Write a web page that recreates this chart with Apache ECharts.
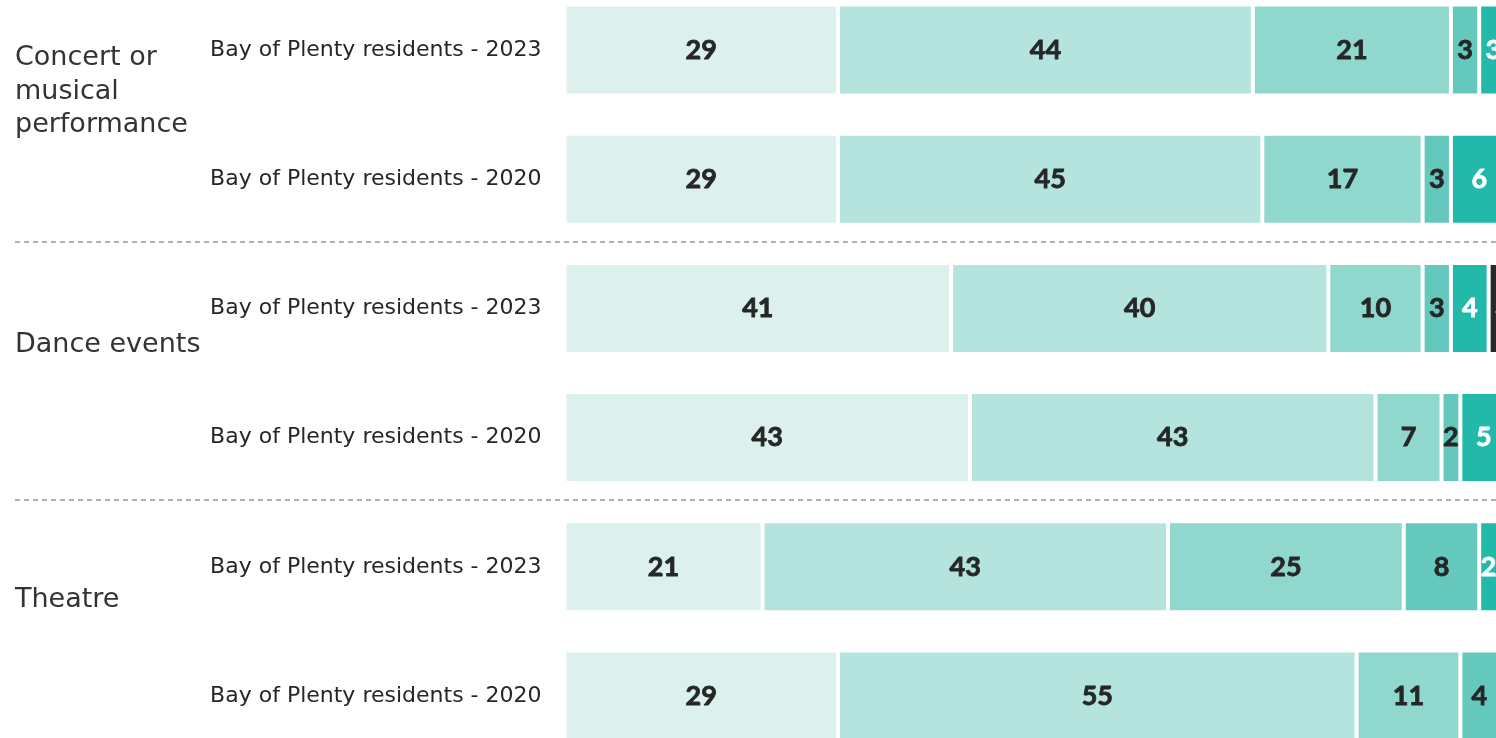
<!DOCTYPE html>
<html>
<head>
<meta charset="utf-8">
<script src="https://cdn.jsdelivr.net/npm/echarts@6/dist/echarts.min.js"></script>
<style>
  html, body { margin: 0; padding: 0; background: #ffffff; }
  #chart { width: 1496px; height: 738px; }
</style>
</head>
<body>
<div id="chart"></div>
<script>
// Rows, top to bottom
const rowLabels = [
  'Bay of Plenty residents - 2023',
  'Bay of Plenty residents - 2020',
  'Bay of Plenty residents - 2023',
  'Bay of Plenty residents - 2020',
  'Bay of Plenty residents - 2023',
  'Bay of Plenty residents - 2020'
];
// Activity groups (two rows each)
const groupLabels = ['Concert or\nmusical\nperformance', 'Dance events', 'Theatre'];

// Share of respondents (%) per response band, one value per row
const band1 = [29, 29, 41, 43, 21, 29];
const band2 = [44, 45, 40, 43, 43, 55];
const band3 = [21, 17, 10, 7, 25, 11];
const band4 = [3, 3, 3, 2, 8, 4];
const band5 = [3, 6, 4, 5, 2, null];
const band6 = [null, null, 3, null, null, null];

const bands = [
  { name: 'Band 1', data: band1, color: '#dcf1ed', text: '#262626' },
  { name: 'Band 2', data: band2, color: '#b5e4de', text: '#262626' },
  { name: 'Band 3', data: band3, color: '#90d7cd', text: '#262626' },
  { name: 'Band 4', data: band4, color: '#64c8bc', text: '#262626' },
  { name: 'Band 5', data: band5, color: '#22b9ab', text: '#ffffff' },
  { name: 'Band 6', data: band6, color: '#2a2829', text: '#ffffff' }
];

// Group titles sit a little above the middle of their group;
// a blank spacer line under each title lifts it.
const spacerHeights = [42, 52, 58];
const groupRich = { t: { lineHeight: 33.5 } };
spacerHeights.forEach((h, i) => { groupRich['s' + i] = { lineHeight: h }; });

const chart = echarts.init(document.getElementById('chart'), null, { renderer: 'canvas' });

const option = {
  animation: false,
  backgroundColor: '#ffffff',
  grid: [
    // bars
    { left: 564.5, right: -11.5, top: -14.6, bottom: -22.6, containLabel: false, outerBoundsMode: 'none' },
    // group titles + dashed separators
    { left: 15, right: -20, top: -16.6, bottom: -20.6, containLabel: false, outerBoundsMode: 'none' }
  ],
  xAxis: [
    { gridIndex: 0, type: 'value', min: 0, max: 100, show: false },
    { gridIndex: 1, type: 'value', min: 0, max: 100, show: false }
  ],
  yAxis: [
    {
      gridIndex: 0,
      type: 'category',
      inverse: true,
      data: rowLabels,
      axisLine: { show: false },
      axisTick: { show: false },
      splitLine: { show: false },
      axisLabel: {
        margin: 23,
        color: '#262626',
        fontFamily: 'DejaVu Sans',
        fontSize: 22
      }
    },
    {
      gridIndex: 1,
      type: 'category',
      inverse: true,
      data: groupLabels,
      axisLine: { show: false },
      axisTick: { show: false },
      splitLine: {
        show: true,
        interval: 0,
        lineStyle: { color: '#999999', width: 1.5, type: [5, 4] }
      },
      axisLabel: {
        inside: true,
        margin: 0,
        align: 'left',
        color: '#333333',
        fontFamily: 'DejaVu Sans',
        fontSize: 27,
        formatter: (value, index) =>
          value.split('\n').map(line => '{t|' + line + '}').join('\n') +
          '\n{s' + index + '| }',
        rich: groupRich
      }
    }
  ],
  series: bands.map(b => ({
    name: b.name,
    type: 'bar',
    stack: 'total',
    xAxisIndex: 0,
    yAxisIndex: 0,
    barWidth: 91,
    clip: false,
    data: b.data,
    itemStyle: { color: b.color, borderColor: '#ffffff', borderWidth: 2 },
    label: {
      show: true,
      position: 'inside',
      formatter: p => (p.value == null ? '' : String(p.value)),
      color: b.text,
      fontFamily: 'Lato',
      fontWeight: 'bold',
      fontSize: 27,
      textBorderColor: b.text,
      textBorderWidth: 0.8
    },
    emphasis: { disabled: true }
  }))
};

chart.setOption(option);
</script>
</body>
</html>
